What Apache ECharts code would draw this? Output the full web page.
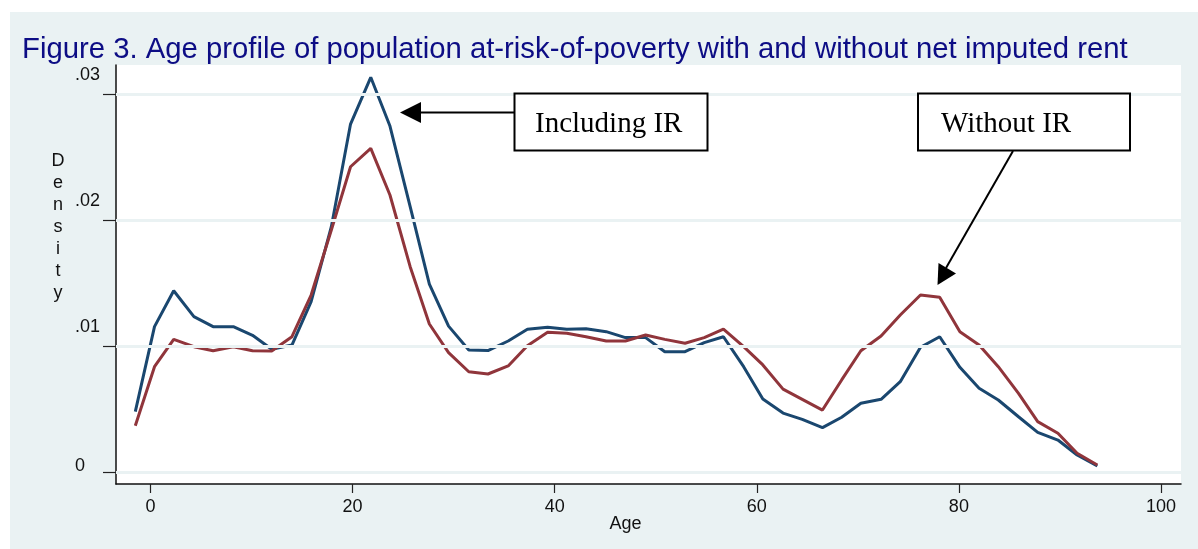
<!DOCTYPE html>
<html>
<head>
<meta charset="utf-8">
<title>Age profile of population at-risk-of-poverty</title>
<script src="https://cdn.jsdelivr.net/npm/echarts@6/dist/echarts.min.js"></script>
<style>
  html, body { margin: 0; padding: 0; background: #ffffff; }
  #chart { width: 1198px; height: 549px; }
</style>
</head>
<body>
<div id="chart"></div>
<script>
// Kernel density evaluation points (age)
const ages = [-1.5, 0.4, 2.3, 4.3, 6.2, 8.2, 10.1, 12.0, 14.0, 15.9,
  17.9, 19.8, 21.8, 23.7, 25.7, 27.6, 29.5, 31.5, 33.4, 35.4,
  37.3, 39.3, 41.2, 43.1, 45.1, 47.0, 49.0, 50.9, 52.9, 54.8,
  56.7, 58.7, 60.6, 62.6, 64.5, 66.5, 68.4, 70.3, 72.3, 74.2,
  76.2, 78.1, 80.1, 82.0, 83.9, 85.9, 87.8, 89.8, 91.7, 93.7];

// Density of the at-risk-of-poverty population, income including net imputed rent
const densityIncludingIR = [0.00481, 0.01156, 0.01441, 0.01235, 0.01156, 0.01156, 0.01087, 0.00976, 0.0101, 0.01354,
  0.01949, 0.02764, 0.03135, 0.02748, 0.02108, 0.01494, 0.0116, 0.00971, 0.00966, 0.01042,
  0.01135, 0.01151, 0.01135, 0.0114, 0.01116, 0.01069, 0.01069, 0.00957, 0.00957, 0.01029,
  0.01076, 0.00838, 0.00582, 0.0047, 0.0042, 0.00354, 0.00437, 0.00548, 0.00579, 0.00719,
  0.00992, 0.01076, 0.00833, 0.00667, 0.00574, 0.00441, 0.00317, 0.00256, 0.00137, 0.0005];

// Density of the at-risk-of-poverty population, income without net imputed rent
const densityWithoutIR = [0.0037, 0.00838, 0.01055, 0.00997, 0.00965, 0.00997, 0.00965, 0.00963, 0.01076, 0.01407,
  0.01923, 0.02425, 0.02571, 0.02201, 0.01632, 0.01177, 0.0095, 0.00798, 0.0078, 0.00844,
  0.01005, 0.01111, 0.01103, 0.01076, 0.01042, 0.01042, 0.0109, 0.01055, 0.01024, 0.01069,
  0.01137, 0.00997, 0.00852, 0.0066, 0.00579, 0.00494, 0.00733, 0.00965, 0.01082, 0.01248,
  0.01407, 0.01389, 0.01116, 0.0101, 0.00838, 0.00627, 0.00402, 0.0031, 0.00151, 0.00058];

// Axis ticks
const xTicks = [0, 20, 40, 60, 80, 100];
const yTicks = [0, 0.01, 0.02, 0.03];

const titleText = 'Figure 3. Age profile of population at-risk-of-poverty with and without net imputed rent';
const xTitle = 'Age';
const yTitle = 'Density';
const noteIncluding = 'Including IR';
const noteWithout = 'Without IR';

const BG = '#eaf2f3';
const BLUE = '#1a476f';
const RED = '#90353b';
const SANS = '"Liberation Sans", Arial, sans-serif';
const SERIF = '"Liberation Serif", "Times New Roman", serif';

const chart = echarts.init(document.getElementById('chart'), null, { renderer: 'canvas', width: 1198, height: 549 });

const pairs = (ys) => ages.map((a, i) => [a, ys[i]]);

function yLabel(v) {
  if (v === 0) return '{z|0}';
  return '{a|' + String(v.toFixed(2)).replace(/^0/, '') + '}';
}

const option = {
  animation: false,
  backgroundColor: '#ffffff',
  grid: {
    left: 116, right: 17, top: 65, bottom: 65,
    show: true, backgroundColor: '#ffffff', borderWidth: 0
  },
  xAxis: {
    type: 'value',
    min: -3.41, max: 101.98,
    axisLine: { show: true, onZero: false, lineStyle: { color: '#111', width: 1.5 } },
    axisTick: { show: true, customValues: xTicks, length: 9, lineStyle: { color: '#222', width: 1.2 } },
    axisLabel: {
      customValues: xTicks, margin: 14,
      fontFamily: SANS, fontSize: 18, color: '#111'
    },
    splitLine: { show: false }
  },
  yAxis: {
    type: 'value',
    min: -0.000929, max: 0.032325,
    axisLine: { show: true, onZero: false, lineStyle: { color: '#111', width: 1.5 } },
    axisTick: { show: true, customValues: yTicks, length: 13, lineStyle: { color: '#222', width: 1.2 } },
    axisLabel: {
      customValues: yTicks, margin: 41, align: 'left',
      fontFamily: SANS, fontSize: 18, color: '#111',
      formatter: yLabel,
      rich: {
        a: { fontFamily: SANS, fontSize: 18, color: '#111', padding: [0, 0, 38, 0] },
        z: { fontFamily: SANS, fontSize: 18, color: '#111', padding: [0, 0, 12, 0] }
      }
    },
    splitLine: { show: false }
  },
  series: [
    {
      // horizontal reference lines at the y ticks
      type: 'line', z: 1, data: [], silent: true,
      markLine: {
        silent: true, symbol: ['none', 'none'], label: { show: false },
        lineStyle: { color: BG, width: 3, type: 'solid' },
        emphasis: { disabled: true },
        data: yTicks.map(v => ({ yAxis: v }))
      }
    },
    {
      name: noteIncluding, type: 'line', z: 3, data: pairs(densityIncludingIR),
      showSymbol: false, symbol: 'none', lineStyle: { color: BLUE, width: 3 }, itemStyle: { color: BLUE }
    },
    {
      name: noteWithout, type: 'line', z: 4, data: pairs(densityWithoutIR),
      showSymbol: false, symbol: 'none', lineStyle: { color: RED, width: 3 }, itemStyle: { color: RED }
    }
  ],
  graphic: [
    // outer panel
    { type: 'rect', z: -100, silent: true, shape: { x: 10, y: 12, width: 1188, height: 537 }, style: { fill: BG } },
    // heading
    { type: 'text', z: 10, x: 22, y: 50, style: { text: titleText, fontFamily: SANS, fontSize: 29.3, fill: '#0d0d85', verticalAlign: 'middle', align: 'left' } },
    // vertical axis title, one letter per line
    { type: 'text', z: 10, x: 58, y: 227, style: { text: yTitle.split('').join('\n'), fontFamily: SANS, fontSize: 18, lineHeight: 21.9, fill: '#111', align: 'center', verticalAlign: 'middle' } },
    // horizontal axis title
    { type: 'text', z: 10, x: 625.5, y: 524, style: { text: xTitle, fontFamily: SANS, fontSize: 18, fill: '#111', align: 'center', verticalAlign: 'middle' } },
    // callout: including imputed rent
    { type: 'rect', z: 20, shape: { x: 514.5, y: 93.5, width: 193, height: 57 }, style: { fill: '#ffffff', stroke: '#000', lineWidth: 2 } },
    { type: 'text', z: 21, x: 535, y: 124, style: { text: noteIncluding, fontFamily: SERIF, fontSize: 29, fill: '#000', align: 'left', verticalAlign: 'middle' } },
    { type: 'line', z: 20, shape: { x1: 514, y1: 112.5, x2: 418, y2: 112.5 }, style: { stroke: '#000', lineWidth: 2 } },
    { type: 'polygon', z: 20, shape: { points: [[400, 112.5], [421, 102], [421, 123]] }, style: { fill: '#000' } },
    // callout: without imputed rent
    { type: 'rect', z: 20, shape: { x: 918, y: 93.5, width: 212, height: 57 }, style: { fill: '#ffffff', stroke: '#000', lineWidth: 2 } },
    { type: 'text', z: 21, x: 941, y: 124, style: { text: noteWithout, fontFamily: SERIF, fontSize: 29, fill: '#000', align: 'left', verticalAlign: 'middle' } },
    { type: 'line', z: 20, shape: { x1: 1013, y1: 151, x2: 946, y2: 268 }, style: { stroke: '#000', lineWidth: 2 } },
    { type: 'polygon', z: 20, shape: { points: [[937.5, 285], [938.5, 263], [956, 273.5]] }, style: { fill: '#000' } }
  ]
};

chart.setOption(option);
</script>
</body>
</html>
